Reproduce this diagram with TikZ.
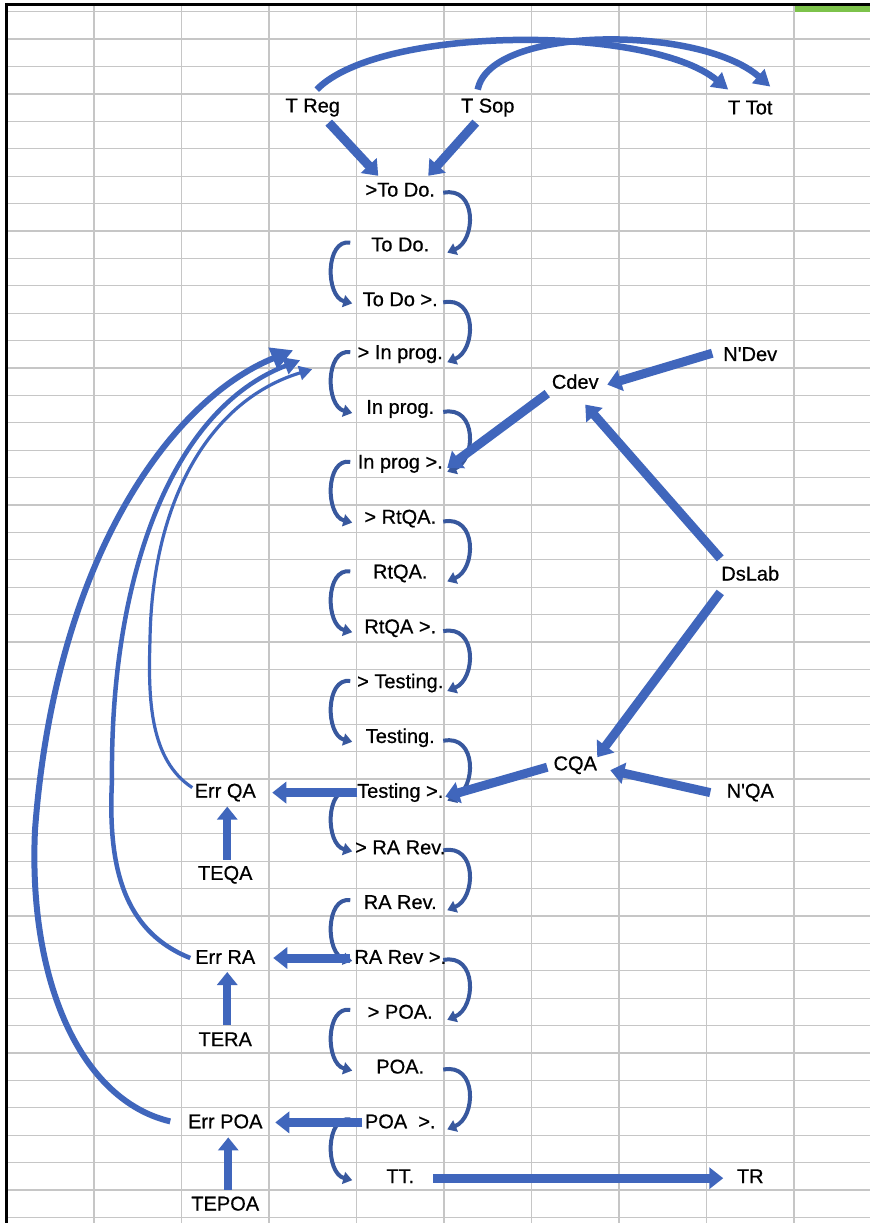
\documentclass[tikz,border=0pt]{standalone}
\usepackage{fontspec}
\setmainfont{Liberation Sans}[FakeBold=0.6]
\usetikzlibrary{arrows.meta}
\definecolor{fatblue}{RGB}{64,102,188}
\definecolor{arcblue}{RGB}{56,88,158}
\definecolor{gridgray}{RGB}{198,198,198}
\definecolor{selgreen}{RGB}{125,195,75}
\newcommand\cellfont{\fontsize{20}{20}\selectfont}
\tikzset{
  cell/.style={font=\cellfont, inner sep=1pt},
  gridline/.style={draw=gridgray, line width=1.2pt},
  fat/.style={draw=fatblue, line width=9pt, -{Triangle[width=21pt,length=14pt]}},
  upfat/.style={draw=fatblue, line width=8pt, -{Triangle[width=20pt,length=13pt]}},
  topcurve/.style={draw=fatblue, line width=6.5pt, -{Triangle[width=18pt,length=16pt]}},
  arc/.style={draw=arcblue, line width=4pt, -{Triangle[width=12pt,length=9pt]}},
  loopouter/.style={draw=fatblue, line width=6pt, -{Triangle[width=22pt,length=22pt]}},
  loopmid/.style={draw=fatblue, line width=4.5pt, -{Triangle[width=17pt,length=16pt]}},
  loopinner/.style={draw=fatblue, line width=3.2pt, -{Triangle[width=14pt,length=13pt]}},
}
\begin{document}
\begin{tikzpicture}[x=1pt,y=-1pt]
\useasboundingbox (0,0) rectangle (870,1223);
\fill[white] (0,0) rectangle (870,1223);

% spreadsheet grid
\foreach \k in {0,...,44}
  \draw[gridline] (6.5,11.7+27.4*\k) -- (870,11.7+27.4*\k);
\foreach \k in {1,...,9}
  \draw[gridline] (6.5+87.5*\k,4) -- (6.5+87.5*\k,1223);
\fill[selgreen] (795,5.5) rectangle (870,12);
\draw[black, line width=3pt] (5,4.5) -- (870,4.5);
\draw[black, line width=2.4pt] (6.5,3) -- (6.5,1223);

% top sources and total
\node[cell] (treg) at (312.75,107.6) {T Reg};
\node[cell] (tsop) at (487.75,107.6) {T Sop};
\node[cell] (ttot) at (750.25,107.6) {T Tot};

% main status chain
\node[cell] (s0)  at (400.25,189.8)  {>To Do.};
\node[cell] (s1)  at (400.25,244.6)  {To Do.};
\node[cell] (s2)  at (400.25,299.4)  {To Do >.};
\node[cell] (s3)  at (400.25,354.2)  {> In prog.};
\node[cell] (s4)  at (400.25,409.0)  {In prog.};
\node[cell] (s5)  at (400.25,463.8)  {In prog >.};
\node[cell] (s6)  at (400.25,518.6)  {> RtQA.};
\node[cell] (s7)  at (400.25,573.4)  {RtQA.};
\node[cell] (s8)  at (400.25,628.2)  {RtQA >.};
\node[cell] (s9)  at (400.25,683.0)  {> Testing.};
\node[cell] (s10) at (400.25,737.8)  {Testing.};
\node[cell] (s11) at (400.25,792.6)  {Testing >.};
\node[cell] (s12) at (400.25,847.4)  {> RA Rev.};
\node[cell] (s13) at (400.25,902.2)  {RA Rev.};
\node[cell] (s14) at (400.25,957.0)  {RA Rev >.};
\node[cell] (s15) at (400.25,1011.8) {> POA.};
\node[cell] (s16) at (400.25,1066.6) {POA.};
\node[cell] (s17) at (400.25,1121.4) {POA~ >.};
\node[cell] (s18) at (400.25,1176.2) {TT.};
\node[cell] (tr)  at (750.25,1176.2) {TR};

% capacity side
\node[cell] (ndev)  at (750.25,354.2) {N\textquotesingle Dev};
\node[cell] (cdev)  at (575.25,381.6) {Cdev};
\node[cell] (dslab) at (750.25,573.4) {DsLab};
\node[cell] (cqa)   at (575.25,765.2) {CQA};
\node[cell] (nqa)   at (750.25,792.6) {N\textquotesingle QA};

% error side
\node[cell] (eqa)   at (225.25,792.6)  {Err QA};
\node[cell] (teqa)  at (225.25,874.8)  {TEQA};
\node[cell] (era)   at (225.25,957.0)  {Err RA};
\node[cell] (tera)  at (225.25,1039.2) {TERA};
\node[cell] (epoa)  at (225.25,1121.4) {Err POA};
\node[cell] (tepoa) at (225.25,1203.6) {TEPOA};

% arcs down the chain, alternating right and left
\foreach \a/\b in {s0/s1,s2/s3,s4/s5,s6/s7,s8/s9,s10/s11,s12/s13,s14/s15,s16/s17}
  \draw[arc] ([shift={(43,3)}]\a.center) .. controls +(34,-7) and +(29,-12) .. ([shift={(47,8)}]\b.center);
\foreach \a/\b in {s1/s2,s3/s4,s5/s6,s7/s8,s9/s10,s11/s12,s13/s14,s15/s16,s17/s18}
  \draw[arc] ([shift={(-50,-2)}]\a.center) .. controls +(-25,-4) and +(-27,-7) .. ([shift={(-48,4)}]\b.center);

% inflows at the top
\draw[fat] ([shift={(16,15)}]treg.center) -- ([shift={(-22,-14)}]s0.center);
\draw[fat] ([shift={(-12,15)}]tsop.center) -- ([shift={(28,-14)}]s0.center);
\draw[topcurve] ([shift={(4,-18)}]treg.center) .. controls (380,25) and (650,25) .. ([shift={(-22,-18)}]ttot.center);
\draw[topcurve] ([shift={(-10,-18)}]tsop.center) .. controls (490,25) and (700,25) .. ([shift={(20,-21)}]ttot.center);

% capacity arrows
\draw[fat] ([shift={(-38,-1)}]ndev.center) -- ([shift={(32,3)}]cdev.center);
\draw[fat] ([shift={(-30,-15)}]dslab.center) -- ([shift={(10,23)}]cdev.center);
\draw[fat] ([shift={(-30,19)}]dslab.center) -- ([shift={(22,-8)}]cqa.center);
\draw[fat] ([shift={(-40,0)}]nqa.center) -- ([shift={(35,5)}]cqa.center);
\draw[fat] ([shift={(-28,12)}]cdev.center) -- ([shift={(47,4)}]s5.center);
\draw[fat] ([shift={(-28,2)}]cqa.center) -- ([shift={(45,4)}]s11.center);

% rejections to the error cells
\draw[fat] ([shift={(-43,0)}]s11.center) -- ([shift={(47,0)}]eqa.center);
\draw[fat] ([shift={(-50,1)}]s14.center) -- ([shift={(48,1)}]era.center);
\draw[fat] ([shift={(-38,1)}]s17.center) -- ([shift={(50,1)}]epoa.center);
\draw[upfat] ([shift={(2,-15)}]teqa.center) -- ([shift={(2,14)}]eqa.center);
\draw[upfat] ([shift={(2,-14)}]tera.center) -- ([shift={(2,15)}]era.center);
\draw[upfat] ([shift={(3,-14)}]tepoa.center) -- ([shift={(3,16)}]epoa.center);

% rework loops back to development
\draw[loopouter] ([shift={(-55,0)}]epoa.center) .. controls (80,1100) and (28,980) .. (35,830)
  .. controls (55,560) and (170,400) .. ([shift={(-107,-4)}]s3.center);
\draw[loopmid] ([shift={(-35,1)}]era.center) .. controls (120,930) and (108,860) .. (112,780)
  .. controls (110,580) and (170,410) .. ([shift={(-100,6)}]s3.center);
\draw[loopinner] ([shift={(-33,-5)}]eqa.center) .. controls (150,760) and (148,700) .. (150,640)
  .. controls (152,500) and (210,400) .. ([shift={(-88,15)}]s3.center);

% output
\draw[fat] ([shift={(33,2)}]s18.center) -- ([shift={(-27,2)}]tr.center);
\end{tikzpicture}
\end{document}
